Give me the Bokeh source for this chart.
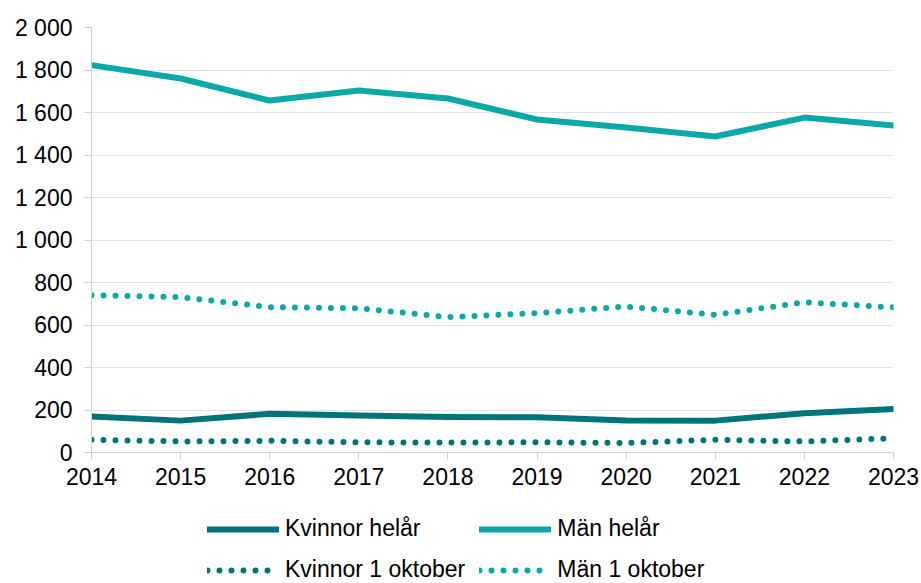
from bokeh.plotting import figure
from bokeh.layouts import column
from bokeh.models import Legend, LegendItem, Range1d, FixedTicker
from bokeh.embed import file_html
from bokeh.resources import INLINE

years = [2014, 2015, 2016, 2017, 2018, 2019, 2020, 2021, 2022, 2023]
kvinnor_helar = [169, 150, 182, 174, 167, 166, 151, 150, 185, 205]
man_helar = [1823, 1760, 1656, 1704, 1666, 1567, 1529, 1487, 1576, 1539]
kvinnor_okt = [60, 52, 55, 48, 47, 48, 45, 60, 52, 67]
man_okt = [740, 731, 684, 679, 637, 656, 687, 648, 707, 683]

y_ticks = [0, 200, 400, 600, 800, 1000, 1200, 1400, 1600, 1800, 2000]
y_tick_labels = ["0", "200", "400", "600", "800", "1 000", "1 200", "1 400", "1 600", "1 800", "2 000"]

series_names = ["Kvinnor helår", "Män helår", "Kvinnor 1 oktober", "Män 1 oktober"]

DARK = "#00747A"
LIGHT = "#0BA8A8"
FONT = "Liberation Sans"
styles = [
    dict(line_color=DARK, line_width=6, line_cap="round", line_join="round"),
    dict(line_color=LIGHT, line_width=6, line_cap="round", line_join="round"),
    dict(line_color=DARK, line_width=6, line_cap="round", line_dash="0 12"),
    dict(line_color=LIGHT, line_width=6, line_cap="round", line_dash="0 12"),
]
all_series = [kvinnor_helar, man_helar, kvinnor_okt, man_okt]

p = figure(width=921, height=500, output_backend="svg", toolbar_location=None,
           x_range=Range1d(2014, 2023), y_range=Range1d(0, 2000),
           min_border_left=91, min_border_right=28, min_border_top=27, min_border_bottom=48)
p.outline_line_color = None
p.background_fill_color = "white"
p.border_fill_color = "white"

for vals, st in zip(all_series, styles):
    p.line(years, vals, **st)

p.xgrid.visible = False
p.ygrid.ticker = FixedTicker(ticks=y_ticks)
p.ygrid.grid_line_color = "#e3e3e3"
p.ygrid.grid_line_width = 1

p.yaxis.ticker = FixedTicker(ticks=y_ticks)
p.yaxis.major_label_overrides = {t: l for t, l in zip(y_ticks, y_tick_labels)}
p.xaxis.ticker = FixedTicker(ticks=years)
p.xaxis.major_label_overrides = {y: str(y) for y in years}

for ax in (p.xaxis, p.yaxis):
    ax.axis_line_color = "#cfcfcf"
    ax.major_tick_line_color = "#cfcfcf"
    ax.major_tick_out = 7
    ax.major_tick_in = 0
    ax.minor_tick_line_color = None
    ax.major_label_text_font = FONT
    ax.major_label_text_font_size = "23px"
    ax.major_label_text_color = "black"
p.yaxis.major_label_standoff = 12
p.xaxis.major_label_standoff = 8

# Legend figure below the chart (series drawn outside its visible range; only the legend shows)
pl = figure(width=921, height=83, output_backend="svg", toolbar_location=None,
            x_range=Range1d(0, 1), y_range=Range1d(-2, -1),
            x_axis_location=None, y_axis_location=None,
            min_border_left=91, min_border_right=28, min_border_top=0, min_border_bottom=0)
pl.outline_line_color = None
pl.xgrid.visible = False
pl.ygrid.visible = False
legend_renderers = [pl.line(years, vals, **st) for vals, st in zip(all_series, styles)]

legend = Legend(items=[LegendItem(label=n, renderers=[r]) for n, r in zip(series_names, legend_renderers)],
                ncols=2, orientation="horizontal",
                glyph_width=72, glyph_height=26, label_height=26, label_standoff=6,
                label_text_font=FONT, label_text_font_size="23px", label_text_color="black",
                spacing=14, padding=0, margin=0, border_line_color=None,
                background_fill_alpha=0, location=(116, 0))
pl.add_layout(legend, "center")

layout = column(p, pl, spacing=0)
open("out.html", "w").write(file_html(layout, INLINE))
